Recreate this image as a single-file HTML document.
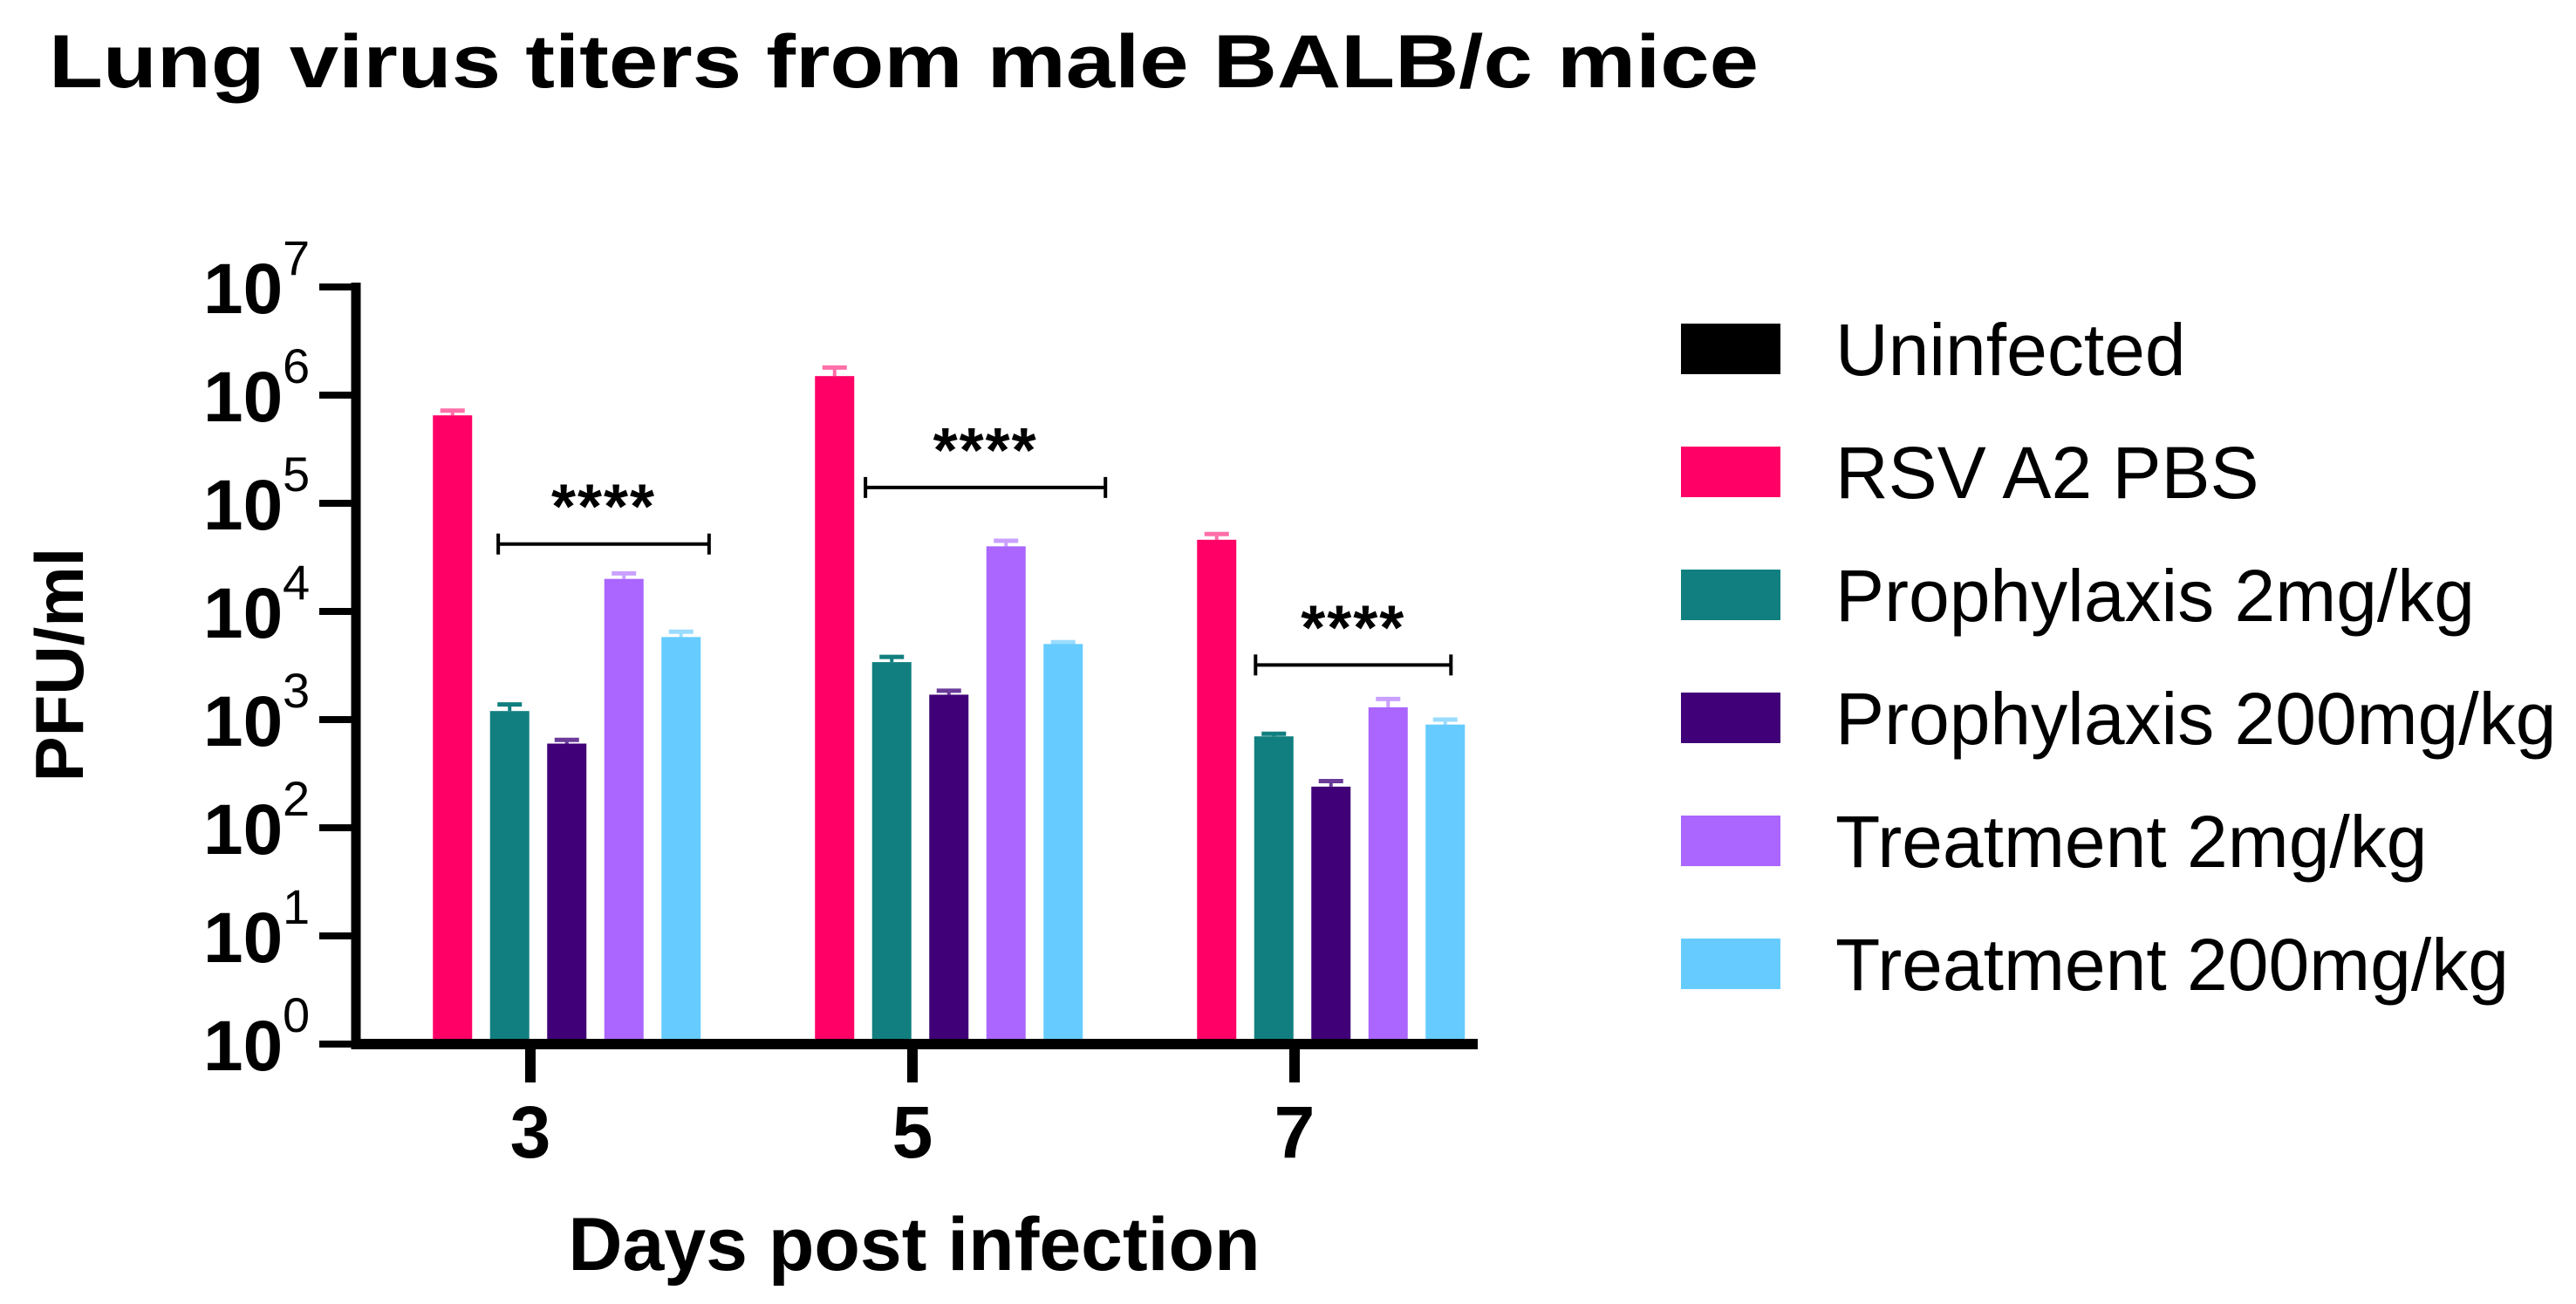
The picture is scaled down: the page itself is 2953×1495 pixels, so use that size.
<!DOCTYPE html>
<html><head><meta charset="utf-8"><style>
html,body{margin:0;padding:0;background:#fff;}
svg{display:block;font-family:"Liberation Sans",Arial,sans-serif;}
</style></head><body>
<svg id="chart" width="2953" height="1495" viewBox="0 0 2953 1495" xmlns="http://www.w3.org/2000/svg">
<text x="56" y="100" font-size="86" font-weight="bold" fill="#000" textLength="1960" lengthAdjust="spacingAndGlyphs">Lung virus titers from male BALB/c mice</text>
<g id="plot"></g>
<text transform="translate(95,762) rotate(-90)" text-anchor="middle" font-size="78" font-weight="bold">PFU/ml</text>
<text x="1048" y="1456" text-anchor="middle" font-size="86" font-weight="bold">Days post infection</text>
<g id="legend"></g>
</svg>
<script>
const categories = ["3", "5", "7"];
const seriesNames = ["Uninfected", "RSV A2 PBS", "Prophylaxis 2mg/kg", "Prophylaxis 200mg/kg", "Treatment 2mg/kg", "Treatment 200mg/kg"];
const uninfected = [0, 0, 0];
const rsvPbs = [650000, 1500000, 46000];
const proph2 = [1200, 3400, 700];
const proph200 = [600, 1700, 240];
const treat2 = [20000, 40000, 1300];
const treat200 = [5800, 5000, 900];
const rsvPbsErr = [720000, 1800000, 52000];
const proph2Err = [1380, 3800, 740];
const proph200Err = [650, 1850, 270];
const treat2Err = [22500, 45000, 1550];
const treat200Err = [6500, 5200, 1000];
const yTickExponents = [0, 1, 2, 3, 4, 5, 6, 7];
const sigLabels = ["****", "****", "****"];
const sigLevels = [42000, 140000, 3200];
const sigFromSlot = [1.80, 1.54, 1.68];
const sigToSlot = [5.49, 5.74, 5.10];

const colors = ["#000000", "#FF0066", "#117F7F", "#400077", "#AA66FF", "#66CCFF"];
const capColors = ["#000", "#FF6FA8", "#117F7F", "#6A3B99", "#C9A0FF", "#9ADCFF"];
const series = [uninfected, rsvPbs, proph2, proph200, treat2, treat200];
const errs = [uninfected, rsvPbsErr, proph2Err, proph200Err, treat2Err, treat200Err];
const NS = "http://www.w3.org/2000/svg";
const plot = document.getElementById("plot");
const legend = document.getElementById("legend");
const X0 = 408, Y0 = 1197, DEC = 124, GROUP0 = 608, GROUPGAP = 438, PITCH = 65.5, BW = 45, BAROFF = 9;
function y(v) { return v <= 1 ? Y0 : Y0 - Math.log10(v) * DEC; }
function gx(i) { return GROUP0 + i * GROUPGAP; }
function bx(i, s) { return gx(i) + BAROFF + (s - 2.5) * PITCH; }
function mk(tag, attrs, parent) {
  const e = document.createElementNS(NS, tag);
  for (const k in attrs) e.setAttribute(k, attrs[k]);
  parent.appendChild(e); return e;
}

series.forEach((vals, s) => {
  vals.forEach((v, i) => {
    if (v <= 1) return;
    const cx = bx(i, s);
    const top = y(v);
    const eb = y(errs[s][i]);
    const l = mk("line", {x1: cx, x2: cx, y1: eb, y2: top, stroke: capColors[s], "stroke-width": 4}, plot);
    
    
    const c = mk("line", {x1: cx - 14, x2: cx + 14, y1: eb, y2: eb, stroke: capColors[s], "stroke-width": 5}, plot);
    
    
    const r = mk("rect", {x: cx - BW / 2, y: top, width: BW, height: Y0 - top, fill: colors[s]}, plot);
    
    
  });
});

const ya = mk("line", {x1: X0, x2: X0, y1: y(1e7) - 5, y2: Y0 + 6, stroke: "#000", "stroke-width": 11}, plot);


yTickExponents.forEach(e => {
  const ty = Y0 - e * DEC;
  const t = mk("line", {x1: 366, x2: X0, y1: ty, y2: ty, stroke: "#000", "stroke-width": 8}, plot);
  
  
  const tx = mk("text", {x: 233, y: ty + 30, "font-size": 82, "font-weight": "bold"}, plot);
  
  
  tx.textContent = "10";
  const sp = mk("text", {x: 324, y: ty - 14, "font-size": 56}, plot);
  
  
  sp.textContent = String(e);
});

const xa = mk("line", {x1: X0 - 5, x2: 1694, y1: Y0, y2: Y0, stroke: "#000", "stroke-width": 12}, plot);


categories.forEach((c, i) => {
  const t = mk("line", {x1: gx(i), x2: gx(i), y1: Y0, y2: 1241, stroke: "#000", "stroke-width": 12}, plot);
  
  
  const tx = mk("text", {x: gx(i), y: 1327, "text-anchor": "middle", "font-size": 84, "font-weight": "bold"}, plot);
  
  
  tx.textContent = c;
});

categories.forEach((c, i) => {
  const x1 = bx(i, sigFromSlot[i]), x2 = bx(i, sigToSlot[i]), by = y(sigLevels[i]);
  const g = mk("g", {}, plot);
  
  
  mk("line", {x1: x1, x2: x2, y1: by, y2: by, stroke: "#000", "stroke-width": 4}, g);
  mk("line", {x1: x1, x2: x1, y1: by - 12, y2: by + 12, stroke: "#000", "stroke-width": 4}, g);
  mk("line", {x1: x2, x2: x2, y1: by - 12, y2: by + 12, stroke: "#000", "stroke-width": 4}, g);
  const st = mk("text", {x: (x1 + x2) / 2, y: by - 18, "text-anchor": "middle", "font-size": 72, "font-weight": "bold", "letter-spacing": "2"}, g);
  
  
  st.textContent = sigLabels[i];
});

seriesNames.forEach((n, s) => {
  const cy = 400 + s * 141;
  const g = mk("g", {}, legend);
  
  
  mk("rect", {x: 1927, y: cy - 29, width: 114, height: 58, fill: colors[s]}, g);
  const t = mk("text", {x: 2104, y: cy + 30, "font-size": 84}, g);
  t.textContent = n;
});
</script>
</body></html>
